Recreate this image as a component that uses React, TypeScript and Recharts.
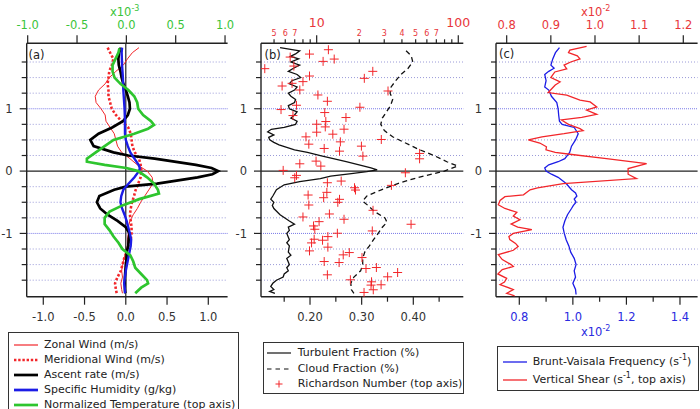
import React from 'react';
import { ScatterChart, Scatter, XAxis, YAxis, ReferenceLine } from 'recharts';

type Pair = [number, number]; // [height, value]

// ---- Panel (a): wind, ascent rate, humidity, temperature ----
const zonalWind: Pair[] = [
  [1.98, 0.16], [1.9, 0.08], [1.8, 0.02], [1.7, -0.03], [1.6, -0.12], [1.5, -0.2], [1.4, -0.25],
  [1.3, -0.33], [1.2, -0.37], [1.1, -0.36], [1.0, -0.3], [0.9, -0.25], [0.8, -0.24], [0.7, -0.19],
  [0.6, -0.14], [0.5, -0.12], [0.4, -0.1], [0.3, -0.05], [0.2, 0.05], [0.1, 0.14], [0, 0.26],
  [-0.1, 0.32], [-0.2, 0.33], [-0.3, 0.28], [-0.4, 0.23], [-0.5, 0.18], [-0.6, 0.14], [-0.7, 0.09],
  [-0.8, 0.05], [-0.9, 0.03], [-1.0, 0.03], [-1.1, 0.02], [-1.2, 0.02], [-1.3, 0.0], [-1.4, -0.02],
  [-1.5, -0.04], [-1.6, -0.05], [-1.7, -0.04], [-1.8, -0.06], [-1.9, -0.05], [-1.96, -0.04],
];
const meridionalWind: Pair[] = [
  [1.98, -0.22], [1.9, -0.19], [1.8, -0.15], [1.7, -0.17], [1.6, -0.2], [1.5, -0.21], [1.4, -0.22],
  [1.3, -0.21], [1.2, -0.21], [1.1, -0.19], [1.0, -0.17], [0.9, -0.12], [0.8, -0.05], [0.7, 0.03],
  [0.6, 0.06], [0.5, 0.07], [0.4, 0.08], [0.3, 0.11], [0.2, 0.16], [0.1, 0.18], [0, 0.19],
  [-0.1, 0.18], [-0.2, 0.15], [-0.3, 0.12], [-0.4, 0.1], [-0.5, 0.075], [-0.6, 0.06], [-0.7, 0.05],
  [-0.8, 0.06], [-0.9, 0.07], [-1.0, 0.07], [-1.1, 0.06], [-1.2, 0.03], [-1.3, 0.01], [-1.4, -0.02],
  [-1.5, -0.04], [-1.6, -0.06], [-1.7, -0.1], [-1.8, -0.13], [-1.9, -0.12], [-1.96, -0.11],
];
const ascentRate: Pair[] = [
  [1.98, -0.06], [1.9, -0.08], [1.8, -0.09], [1.7, -0.085], [1.6, -0.065], [1.5, -0.05], [1.4, -0.03],
  [1.3, 0.0], [1.2, 0.025], [1.1, 0.045], [1.0, 0.05], [0.9, 0.025], [0.8, -0.035], [0.7, -0.165],
  [0.6, -0.33], [0.5, -0.43], [0.4, -0.39], [0.3, -0.15], [0.25, 0.03], [0.2, 0.35], [0.1, 0.85],
  [0.05, 1.04], [0, 1.12], [-0.05, 1.05], [-0.1, 0.87], [-0.2, 0.38], [-0.25, 0.0], [-0.3, -0.14],
  [-0.4, -0.32], [-0.5, -0.35], [-0.6, -0.31], [-0.7, -0.22], [-0.8, -0.1], [-0.9, 0.0], [-1.0, 0.045],
  [-1.1, 0.035], [-1.2, 0.03], [-1.3, 0.01], [-1.4, 0.01], [-1.5, 0.0], [-1.6, -0.005], [-1.7, -0.01],
  [-1.8, -0.01], [-1.9, -0.01], [-1.96, -0.005],
];
const specificHumidity: Pair[] = [
  [1.98, -0.045], [1.9, -0.05], [1.7, -0.045], [1.5, -0.035], [1.3, -0.03], [1.1, -0.02], [1.0, -0.015],
  [0.8, -0.01], [0.6, -0.01], [0.5, 0.0], [0.4, 0.025], [0.3, 0.055], [0.2, 0.105], [0.1, 0.155],
  [0.05, 0.17], [0, 0.16], [-0.1, 0.105], [-0.2, 0.035], [-0.3, -0.03], [-0.4, -0.055], [-0.5, -0.065],
  [-0.6, -0.045], [-0.7, -0.015], [-0.8, 0.01], [-0.9, 0.03], [-1.0, 0.05], [-1.1, 0.065], [-1.2, 0.06],
  [-1.3, 0.045], [-1.4, 0.03], [-1.5, 0.015], [-1.6, 0.0], [-1.7, -0.01], [-1.8, -0.02], [-1.9, -0.01],
  [-1.96, -0.01],
];
// normalized temperature, top axis (x10^-3)
const normalizedTemperature: Pair[] = [
  [1.97, -0.07], [1.9, -0.08], [1.8, -0.11], [1.7, -0.14], [1.6, -0.14], [1.5, -0.12], [1.4, -0.06],
  [1.3, 0.02], [1.2, 0.08], [1.1, 0.11], [1.0, 0.12], [0.9, 0.17], [0.8, 0.25], [0.74, 0.28],
  [0.68, 0.22], [0.6, 0.08], [0.5, -0.13], [0.4, -0.22], [0.3, -0.31], [0.2, -0.4], [0.15, -0.4],
  [0.1, -0.22], [0.05, 0.0], [0, 0.12], [-0.1, 0.21], [-0.2, 0.28], [-0.3, 0.32], [-0.36, 0.33],
  [-0.45, 0.13], [-0.55, -0.04], [-0.65, -0.17], [-0.75, -0.22], [-0.85, -0.22], [-0.95, -0.17],
  [-1.05, -0.13], [-1.15, -0.08], [-1.25, -0.04], [-1.35, 0.04], [-1.45, 0.07], [-1.55, 0.09],
  [-1.65, 0.15], [-1.75, 0.21], [-1.8, 0.22], [-1.87, 0.15], [-1.96, 0.09],
];

// ---- Panel (b): turbulent / cloud fraction, Richardson number ----
const turbulentFraction: Pair[] = [
  [1.98, 0.142], [1.93, 0.18], [1.88, 0.172], [1.84, 0.162], [1.8, 0.178], [1.75, 0.163], [1.7, 0.18],
  [1.65, 0.168], [1.6, 0.158], [1.55, 0.175], [1.5, 0.182], [1.45, 0.165], [1.4, 0.16], [1.35, 0.175],
  [1.3, 0.17], [1.25, 0.158], [1.2, 0.163], [1.15, 0.172], [1.1, 0.17], [1.05, 0.158], [1.0, 0.16],
  [0.95, 0.175], [0.9, 0.17], [0.85, 0.163], [0.8, 0.175], [0.75, 0.172], [0.7, 0.15], [0.67, 0.125],
  [0.63, 0.118], [0.58, 0.13], [0.54, 0.12], [0.5, 0.122], [0.46, 0.13], [0.42, 0.14], [0.38, 0.155],
  [0.34, 0.17], [0.3, 0.195], [0.25, 0.22], [0.2, 0.245], [0.15, 0.27], [0.1, 0.295], [0.05, 0.318],
  [0.02, 0.33], [-0.01, 0.31], [-0.04, 0.28], [-0.08, 0.24], [-0.12, 0.22], [-0.17, 0.18], [-0.22, 0.15],
  [-0.3, 0.135], [-0.4, 0.128], [-0.45, 0.124], [-0.5, 0.13], [-0.55, 0.127], [-0.6, 0.13], [-0.7, 0.142],
  [-0.8, 0.16], [-0.85, 0.17], [-0.9, 0.158], [-0.95, 0.16], [-1.0, 0.155], [-1.1, 0.16], [-1.15, 0.155],
  [-1.2, 0.16], [-1.3, 0.158], [-1.35, 0.163], [-1.4, 0.155], [-1.5, 0.16], [-1.55, 0.155], [-1.6, 0.158],
  [-1.65, 0.15], [-1.7, 0.148], [-1.75, 0.135], [-1.8, 0.128], [-1.85, 0.124], [-1.9, 0.13],
  [-1.93, 0.122], [-1.96, 0.132],
];
const cloudFraction: Pair[] = [
  [1.93, 0.386], [1.85, 0.396], [1.75, 0.399], [1.65, 0.39], [1.55, 0.376], [1.45, 0.366], [1.35, 0.357],
  [1.25, 0.355], [1.15, 0.36], [1.05, 0.356], [0.95, 0.348], [0.85, 0.34], [0.75, 0.337], [0.65, 0.344],
  [0.55, 0.36], [0.45, 0.385], [0.35, 0.41], [0.25, 0.44], [0.15, 0.465], [0.08, 0.486], [0, 0.46],
  [-0.1, 0.41], [-0.2, 0.37], [-0.3, 0.338], [-0.4, 0.31], [-0.48, 0.302], [-0.55, 0.312], [-0.65, 0.325],
  [-0.75, 0.345], [-0.82, 0.349], [-0.9, 0.34], [-1.0, 0.332], [-1.1, 0.323], [-1.2, 0.315], [-1.3, 0.306],
  [-1.4, 0.302], [-1.5, 0.302], [-1.6, 0.298], [-1.7, 0.285], [-1.8, 0.279], [-1.9, 0.28], [-1.96, 0.285],
];
// Richardson number, top (log) axis
const richardsonNumber: Pair[] = [
  [1.947, 12.1], [1.877, 8.9], [1.829, 6.5], [1.797, 13.3], [1.76, 11.1], [1.685, 6.9], [1.643, 4.3],
  [1.6, 24.9], [1.525, 8.9], [1.488, 21.7], [1.435, 8.0], [1.408, 6.7], [1.365, 5.7], [1.301, 7.6],
  [1.285, 31.9], [1.221, 10.2], [1.12, 11.9], [1.056, 7.2], [1.024, 20.2], [0.987, 5.6], [0.939, 11.4],
  [0.891, 6.8], [0.859, 16.1], [0.795, 11.6], [0.752, 10.0], [0.709, 11.5], [0.672, 15.6], [0.624, 10.0],
  [0.592, 13.0], [0.549, 8.4], [0.507, 28.6], [0.469, 14.7], [0.432, 8.8], [0.4, 20.7], [0.363, 11.3],
  [0.32, 14.5], [0.283, 53.3], [0.24, 21.2], [0.197, 53.3], [0.16, 9.9], [0.117, 7.6], [0.08, 10.7],
  [0.011, 5.8], [-0.027, 42.3], [-0.069, 7.2], [-0.107, 7.0], [-0.16, 14.9], [-0.187, 11.9],
  [-0.229, 33.7], [-0.267, 18.5], [-0.304, 18.8], [-0.341, 11.8], [-0.384, 8.7], [-0.427, 11.2],
  [-0.453, 14.5], [-0.501, 14.1], [-0.544, 8.8], [-0.629, 25.0], [-0.688, 12.3], [-0.736, 8.0],
  [-0.773, 15.6], [-0.811, 10.4], [-0.853, 46.4], [-0.88, 9.5], [-0.933, 9.7], [-0.96, 24.7],
  [-0.997, 14.0], [-1.051, 12.0], [-1.093, 9.6], [-1.109, 11.0], [-1.152, 9.2], [-1.22, 12.0],
  [-1.28, 8.9], [-1.307, 17.0], [-1.344, 15.4], [-1.387, 20.9], [-1.451, 11.3], [-1.467, 14.4],
  [-1.547, 26.4], [-1.563, 22.3], [-1.627, 37.3], [-1.664, 11.9], [-1.696, 31.7], [-1.744, 17.3],
  [-1.776, 24.4], [-1.824, 28.5], [-1.829, 24.2], [-1.904, 25.1], [-1.947, 21.6],
];

// ---- Panel (c): Brunt-Vaisala frequency and vertical shear (x10^-2) ----
const bruntVaisala: Pair[] = [
  [1.98, 0.95], [1.9, 0.935], [1.8, 0.925], [1.7, 0.918], [1.65, 0.93], [1.6, 0.91], [1.55, 0.895],
  [1.45, 0.9], [1.35, 0.895], [1.3, 0.91], [1.2, 0.92], [1.1, 0.94], [1.0, 0.945], [0.9, 0.947],
  [0.8, 0.95], [0.75, 0.96], [0.7, 1.005], [0.6, 1.02], [0.5, 1.01], [0.4, 0.995], [0.3, 0.988],
  [0.2, 0.97], [0.15, 0.945], [0.1, 0.91], [0.05, 0.895], [0, 0.9], [-0.05, 0.92], [-0.1, 0.945],
  [-0.2, 0.975], [-0.3, 0.995], [-0.35, 1.01], [-0.4, 1.015], [-0.45, 1.005], [-0.5, 1.012],
  [-0.55, 1.002], [-0.6, 0.995], [-0.7, 0.98], [-0.8, 0.97], [-0.9, 0.963], [-1.0, 0.968], [-1.1, 0.975],
  [-1.2, 0.985], [-1.3, 0.992], [-1.4, 1.005], [-1.5, 1.012], [-1.6, 1.005], [-1.7, 1.01], [-1.8, 1.0],
  [-1.9, 1.01], [-1.98, 1.012],
];
const verticalShear: Pair[] = [
  [2.0, 0.981], [1.94, 0.943], [1.9, 0.94], [1.85, 0.96], [1.8, 0.966], [1.75, 0.945], [1.7, 0.93],
  [1.64, 0.936], [1.59, 0.909], [1.5, 0.9], [1.43, 0.921], [1.38, 0.91], [1.32, 0.902], [1.26, 0.894],
  [1.22, 0.936], [1.14, 0.966], [1.11, 0.989], [1.03, 1.004], [0.98, 0.981], [0.91, 1.004], [0.86, 0.97],
  [0.82, 0.924], [0.75, 0.94], [0.68, 0.966], [0.65, 0.973], [0.6, 0.93], [0.55, 0.88], [0.5, 0.849],
  [0.45, 0.875], [0.39, 0.89], [0.34, 0.889], [0.3, 0.91], [0.27, 0.943], [0.2, 1.026], [0.12, 1.117],
  [0.04, 1.075], [-0.05, 1.075], [-0.12, 1.094], [-0.2, 0.928], [-0.27, 0.87], [-0.3, 0.853],
  [-0.38, 0.838], [-0.41, 0.796], [-0.47, 0.785], [-0.54, 0.781], [-0.6, 0.796], [-0.66, 0.823],
  [-0.72, 0.815], [-0.78, 0.83], [-0.85, 0.81], [-0.9, 0.825], [-0.94, 0.857], [-1.0, 0.815],
  [-1.05, 0.805], [-1.1, 0.807], [-1.16, 0.82], [-1.21, 0.826], [-1.27, 0.815], [-1.34, 0.781],
  [-1.42, 0.79], [-1.5, 0.81], [-1.53, 0.815], [-1.58, 0.79], [-1.65, 0.78], [-1.72, 0.8], [-1.78, 0.795],
  [-1.82, 0.785], [-1.9, 0.815], [-1.96, 0.8], [-2.0, 0.818],
];

// ---- Axis ticks ----
const heightTicks = [-1.75, -1.5, -1.25, -1, -0.75, -0.5, -0.25, 0, 0.25, 0.5, 0.75, 1, 1.25, 1.5, 1.75];
const ticksA = [-1, -0.5, 0, 0.5, 1];
const ticksBBottom = [0.15, 0.2, 0.25, 0.3, 0.35, 0.4, 0.45];
const ticksBTop = [5, 6, 7, 8, 9, 10, 20, 30, 40, 50, 60, 70, 80, 90, 100];
const ticksCTop = [0.8, 0.9, 1.0, 1.1, 1.2];
const ticksCBottom = [0.8, 0.9, 1.0, 1.1, 1.2, 1.3, 1.4];

// ---- Styling ----
const FONT = '"DejaVu Sans", Verdana, sans-serif';
const INK = '#222';
const TEXT = '#333';
const RED = '#f2262a';
const RED_TXT = '#e8363a';
const GREEN = '#2ec52e';
const GREEN_TXT = '#3ac43a';
const BLUE = '#1c1ce6';
const BLUE_TXT = '#2a2ae0';

const CHART_H = 330;
const PLOT_TOP = 43.3;
const PLOT_BOTTOM = 296.7;
const AXIS_H = 30;
const H_DOMAIN: [number, number] = [-2.015, 2.05];

const toPoints = (pairs: Pair[]) => pairs.map(([h, v]) => ({ x: v, y: h }));
const noDot = () => <g />;

const PlusMark = (props: any) => {
  const { cx, cy } = props;
  if (cx == null || cy == null) return <g />;
  return (
    <g stroke={RED} strokeWidth={1}>
      <line x1={cx - 4.5} x2={cx + 4.5} y1={cy} y2={cy} />
      <line x1={cx} x2={cx} y1={cy - 4.5} y2={cy + 4.5} />
    </g>
  );
};

const HeightTick = (props: any) => {
  const { x, y, payload } = props;
  const v = payload.value as number;
  const major = Math.abs(v - Math.round(v)) < 1e-9;
  return (
    <g>
      <line x1={x - (major ? 7 : 5)} x2={x} y1={y} y2={y} stroke={INK} strokeWidth={1.2} />
      {major && (
        <text x={x - 14} y={y} dy="0.36em" textAnchor="end" fill={TEXT} fontFamily={FONT} fontSize={11.5}>
          {String(v)}
        </text>
      )}
    </g>
  );
};

const linearTick = (side: 'top' | 'bottom', color: string, label: (v: number) => string | null) =>
  (props: any) => {
    const { x, y, payload } = props;
    const v = payload.value as number;
    const text = label(v);
    const dir = side === 'top' ? -1 : 1;
    const len = text ? 8 : 5;
    return (
      <g>
        <line x1={x} x2={x} y1={y} y2={y + dir * len} stroke={INK} strokeWidth={1.2} />
        {text && (
          <text x={x} y={y + dir * (side === 'top' ? 18.5 : 20)} dy="0.36em" textAnchor="middle" fill={color} fontFamily={FONT} fontSize={11.5}>
            {text}
          </text>
        )}
      </g>
    );
  };

const LogTick = (props: any) => {
  const { x, y, payload } = props;
  const v = payload.value as number;
  const decade = v === 10 || v === 100;
  const mantissa = v < 10 ? v : v / 10;
  const small = !decade && mantissa <= 7 ? String(mantissa) : null;
  return (
    <g>
      <line x1={x} x2={x} y1={y} y2={y - (decade ? 8 : 4)} stroke={INK} strokeWidth={1.2} />
      {decade && (
        <text x={x} y={y - 21} dy="0.36em" textAnchor="middle" fill={RED_TXT} fontFamily={FONT} fontSize={12.5}>
          {String(v)}
        </text>
      )}
      {small && (
        <text x={x} y={y - 10} dy="0.36em" textAnchor="middle" fill={RED_TXT} fontFamily={FONT} fontSize={8}>
          {small}
        </text>
      )}
    </g>
  );
};

interface AxisSpec {
  domain: [number, number];
  ticks: number[];
  tick: (p: any) => React.ReactElement;
  scale?: 'log' | 'linear';
}

function Panel(props: {
  left: number;
  width: number;
  plotLeft: number;
  plotRight: number;
  bottom: AxisSpec;
  top: AxisSpec;
  children: React.ReactNode;
}) {
  const { left, width, plotLeft, plotRight, bottom, top, children } = props;
  const frame = { stroke: INK, strokeWidth: 1.4 };
  return (
    <div style={{ position: 'absolute', left, top: 0, width, height: CHART_H }}>
      <ScatterChart
        width={width}
        height={CHART_H}
        margin={{ top: PLOT_TOP - AXIS_H, bottom: CHART_H - PLOT_BOTTOM - AXIS_H, left: 0, right: left + width - plotRight }}
      >
        <XAxis
          xAxisId="bottom" orientation="bottom" type="number" dataKey="x" height={AXIS_H}
          domain={bottom.domain} ticks={bottom.ticks} interval={0} allowDataOverflow
          tickSize={0} tickMargin={0} tickLine={false} axisLine={frame} tick={bottom.tick}
        />
        <XAxis
          xAxisId="top" orientation="top" type="number" dataKey="x" height={AXIS_H}
          scale={top.scale ?? 'linear'} domain={top.domain} ticks={top.ticks} interval={0} allowDataOverflow
          tickSize={0} tickMargin={0} tickLine={false} axisLine={frame} tick={top.tick}
        />
        <YAxis
          yAxisId="h" type="number" dataKey="y" width={plotLeft - left}
          domain={H_DOMAIN} ticks={heightTicks} interval={0} allowDataOverflow
          tickSize={0} tickMargin={0} tickLine={false} axisLine={frame} tick={HeightTick}
        />
        <YAxis
          yAxisId="frame" orientation="right" type="number" width={0}
          domain={H_DOMAIN} allowDataOverflow tick={false} tickLine={false} axisLine={frame}
        />
        {heightTicks
          .filter((v) => v !== 0)
          .map((v) => (
            <ReferenceLine
              key={`g${v}`} y={v} xAxisId="bottom" yAxisId="h"
              stroke={Math.abs(v) === 1 ? '#7a7ae8' : '#9a9ad8'}
              strokeDasharray={Math.abs(v) === 1 ? '1 1' : '1 2'}
              strokeWidth={1}
            />
          ))}
        <ReferenceLine y={0} xAxisId="bottom" yAxisId="h" stroke={INK} strokeWidth={1.2} />
        {children}
      </ScatterChart>
    </div>
  );
}

const Sup = ({ children }: { children: React.ReactNode }) => (
  <span style={{ fontSize: 8, position: 'relative', top: -5 }}>{children}</span>
);

const Swatch = (p: { color: string; width?: number; dash?: string; plus?: boolean }) => (
  <svg width={26} height={10} style={{ display: 'block' }}>
    {p.plus ? (
      <g stroke={RED} strokeWidth={1}>
        <line x1={9.5} x2={16.5} y1={5} y2={5} />
        <line x1={13} x2={13} y1={1.5} y2={8.5} />
      </g>
    ) : (
      <line x1={1} x2={25} y1={5} y2={5} stroke={p.color} strokeWidth={p.width ?? 1.2} strokeDasharray={p.dash} />
    )}
  </svg>
);

const LegendRow = (p: { top: number; left: number; textLeft: number; swatch: React.ReactNode; children: React.ReactNode }) => (
  <div style={{ position: 'absolute', top: p.top - 7, left: 0, height: 14, width: '100%' }}>
    <div style={{ position: 'absolute', left: p.left, top: 2 }}>{p.swatch}</div>
    <div style={{ position: 'absolute', left: p.textLeft, top: 0, lineHeight: '14px', whiteSpace: 'nowrap' }}>{p.children}</div>
  </div>
);

const boxStyle = (left: number, top: number, width: number, height: number): React.CSSProperties => ({
  position: 'absolute',
  left,
  top,
  width,
  height,
  border: '1.4px solid #333',
  boxSizing: 'border-box',
  background: '#fff',
});

const absText = (left: number, top: number, color: string, size = 11, lh = 14): React.CSSProperties => ({
  position: 'absolute',
  left,
  top,
  color,
  fontSize: size,
  lineHeight: `${lh}px`,
  whiteSpace: 'nowrap',
});

export default function App() {
  return (
    <div
      style={{
        position: 'absolute', left: 0, top: 0, width: 700, height: 409, overflow: 'hidden',
        background: '#fff', fontFamily: FONT, color: '#222', fontSize: 11,
      }}
    >
      {/* (a) */}
      <Panel
        left={0} width={240} plotLeft={26.7} plotRight={227.6}
        bottom={{ domain: [-1.201, 1.234], ticks: ticksA, tick: linearTick('bottom', TEXT, (v) => v.toFixed(1)) }}
        top={{ domain: [-1.01, 1.026], ticks: ticksA, tick: linearTick('top', GREEN_TXT, (v) => v.toFixed(1)) }}
      >
        <ReferenceLine x={0} xAxisId="bottom" yAxisId="h" stroke={INK} strokeWidth={1.2} />
        <Scatter data={toPoints(zonalWind)} xAxisId="bottom" yAxisId="h" fill={RED} shape={noDot}
          line={{ stroke: RED, strokeWidth: 1 }} isAnimationActive={false} />
        <Scatter data={toPoints(meridionalWind)} xAxisId="bottom" yAxisId="h" fill={RED} shape={noDot}
          line={{ stroke: RED, strokeWidth: 2.6, strokeDasharray: '2.4 2' }} isAnimationActive={false} />
        <Scatter data={toPoints(ascentRate)} xAxisId="bottom" yAxisId="h" fill="#000" shape={noDot}
          line={{ stroke: '#000', strokeWidth: 2.7 }} isAnimationActive={false} />
        <Scatter data={toPoints(specificHumidity)} xAxisId="bottom" yAxisId="h" fill={BLUE} shape={noDot}
          line={{ stroke: BLUE, strokeWidth: 2.4 }} isAnimationActive={false} />
        <Scatter data={toPoints(normalizedTemperature)} xAxisId="top" yAxisId="h" fill={GREEN} shape={noDot}
          line={{ stroke: GREEN, strokeWidth: 2.7 }} isAnimationActive={false} />
      </Panel>

      {/* (b) */}
      <Panel
        left={232} width={244} plotLeft={261} plotRight={463.3}
        bottom={{
          domain: [0.1051, 0.4968], ticks: ticksBBottom,
          tick: linearTick('bottom', TEXT, (v) => (Math.round(v * 100) % 10 === 0 ? v.toFixed(2) : null)),
        }}
        top={{ domain: [4.044, 108.5], ticks: ticksBTop, tick: LogTick, scale: 'log' }}
      >
        <Scatter data={toPoints(turbulentFraction)} xAxisId="bottom" yAxisId="h" fill="#000" shape={noDot}
          line={{ stroke: '#111', strokeWidth: 1.3 }} isAnimationActive={false} />
        <Scatter data={toPoints(cloudFraction)} xAxisId="bottom" yAxisId="h" fill="#000" shape={noDot}
          line={{ stroke: '#111', strokeWidth: 1.3, strokeDasharray: '5 3.5' }} isAnimationActive={false} />
        <Scatter data={toPoints(richardsonNumber)} xAxisId="top" yAxisId="h" fill={RED} shape={PlusMark}
          isAnimationActive={false} />
      </Panel>

      {/* (c) */}
      <Panel
        left={466} width={234} plotLeft={496} plotRight={697.6}
        bottom={{
          domain: [0.713, 1.4658], ticks: ticksCBottom,
          tick: linearTick('bottom', BLUE_TXT, (v) => (Math.round(v * 10) % 2 === 0 ? v.toFixed(1) : null)),
        }}
        top={{ domain: [0.7758, 1.2324], ticks: ticksCTop, tick: linearTick('top', RED_TXT, (v) => v.toFixed(1)) }}
      >
        <Scatter data={toPoints(bruntVaisala)} xAxisId="bottom" yAxisId="h" fill={BLUE} shape={noDot}
          line={{ stroke: BLUE, strokeWidth: 1.3 }} isAnimationActive={false} />
        <Scatter data={toPoints(verticalShear)} xAxisId="top" yAxisId="h" fill={RED} shape={noDot}
          line={{ stroke: RED, strokeWidth: 1.3 }} isAnimationActive={false} />
      </Panel>

      {/* panel letters */}
      <div style={absText(28.5, 47.5, '#222', 11.5)}>(a)</div>
      <div style={absText(264.5, 48, '#222', 11.5)}>(b)</div>
      <div style={absText(499, 46.5, '#222', 11.5)}>(c)</div>

      {/* axis multipliers */}
      <div style={absText(110, 6.5, GREEN_TXT, 11.5, 10)}>x10<Sup>-3</Sup></div>
      <div style={absText(581, 6.5, RED_TXT, 11.5, 10)}>x10<Sup>-2</Sup></div>
      <div style={absText(581, 327, BLUE_TXT, 11.5, 10)}>x10<Sup>-2</Sup></div>

      {/* legend (a) */}
      <div style={boxStyle(8, 332, 231, 84)}>
        <LegendRow top={11.5} left={4} textLeft={35} swatch={<Swatch color={RED} width={1.2} />}>Zonal Wind (m/s)</LegendRow>
        <LegendRow top={26.5} left={4} textLeft={35} swatch={<Swatch color={RED} width={2.6} dash="2.4 1.8" />}>Meridional Wind (m/s)</LegendRow>
        <LegendRow top={41.5} left={4} textLeft={35} swatch={<Swatch color="#000" width={2.7} />}>Ascent rate (m/s)</LegendRow>
        <LegendRow top={57} left={4} textLeft={35} swatch={<Swatch color={BLUE} width={2.7} />}>Specific Humidity (g/kg)</LegendRow>
        <LegendRow top={71.5} left={4} textLeft={35} swatch={<Swatch color={GREEN} width={2.7} />}>Normalized Temperature (top axis)</LegendRow>
      </div>

      {/* legend (b) */}
      <div style={boxStyle(262.7, 341.7, 201, 52)}>
        <LegendRow top={10.5} left={2.5} textLeft={34} swatch={<Swatch color="#111" width={1.2} />}>Turbulent Fraction (%)</LegendRow>
        <LegendRow top={26} left={2.5} textLeft={34} swatch={<Swatch color="#111" width={1.2} dash="4.5 4" />}>Cloud Fraction (%)</LegendRow>
        <LegendRow top={41} left={2.5} textLeft={34} swatch={<Swatch color={RED} plus />}>Richardson Number (top axis)</LegendRow>
      </div>

      {/* legend (c) */}
      <div style={boxStyle(497.3, 345.7, 201.5, 45.5)}>
        <LegendRow top={15} left={4} textLeft={34.5} swatch={<Swatch color={BLUE} width={1.3} />}>
          Brunt-Vaisala Frequency (s<Sup>-1</Sup>)
        </LegendRow>
        <LegendRow top={33.5} left={4} textLeft={34.5} swatch={<Swatch color={RED} width={1.3} />}>
          Vertical Shear (s<Sup>-1</Sup>, top axis)
        </LegendRow>
      </div>
    </div>
  );
}
